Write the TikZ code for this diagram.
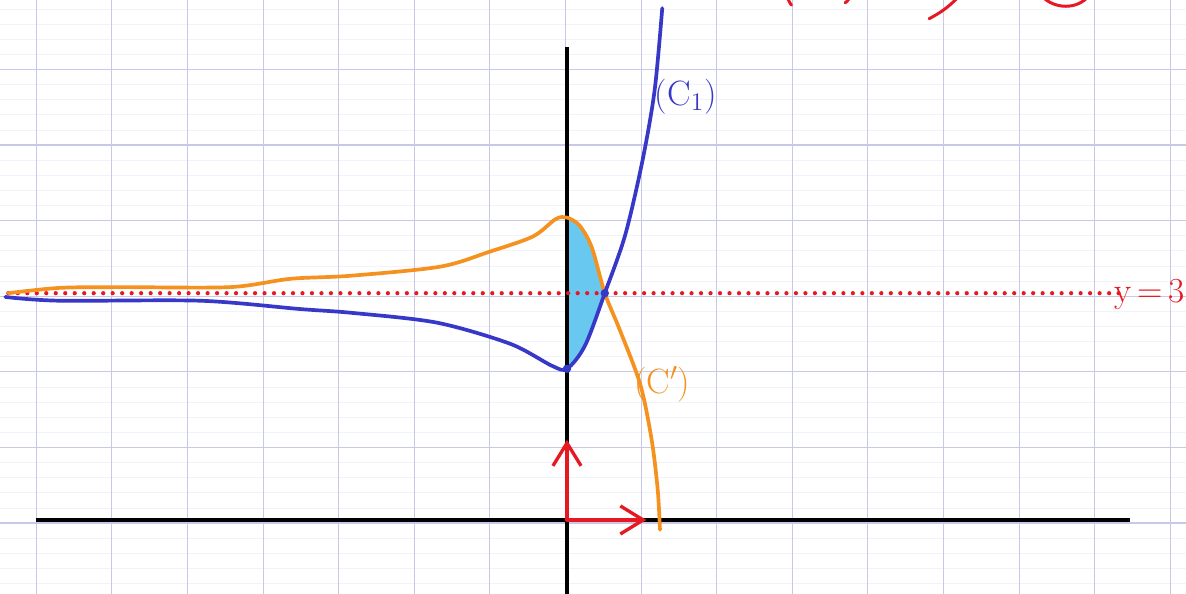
\documentclass[tikz,border=0pt]{standalone}
\usepackage{amsmath}
\usepackage{tikz}
\usetikzlibrary{arrows.meta}
\definecolor{gridmaj}{RGB}{200,200,232}
\definecolor{gridmin}{RGB}{242,242,250}
\definecolor{cblue}{RGB}{55,55,200}
\definecolor{corange}{RGB}{245,145,30}
\definecolor{cfill}{RGB}{105,200,240}
\definecolor{cred}{RGB}{230,25,35}

\begin{document}
\begin{tikzpicture}[x=1.512cm,y=1.512cm,font=\fontsize{20}{24}\selectfont,
  curve/.style={line width=2.1pt,line cap=round,line join=round},
  redarrow/.style={cred,line width=1.9pt,line cap=round,-{Straight Barb[length=13pt,width=16pt,line width=1.9pt]}},
  scrib/.style={cred,line width=1.7pt,line cap=round}]
\useasboundingbox (-7.5,-0.979) rectangle (8.188,6.878);
\fill[white] (-7.5,-0.979) rectangle (8.188,6.878);
% grid
\foreach \k in {-4,...,34} \draw[gridmin,line width=0.4pt] (-7.5,\k/5-0.04) -- (8.188,\k/5-0.04);
\foreach \y in {0,...,6} \draw[gridmaj,line width=0.6pt] (-7.5,\y-0.04) -- (8.188,\y-0.04);
\foreach \x in {-7,...,8} \draw[gridmaj,line width=0.6pt] (\x-0.02,-0.979) -- (\x-0.02,6.878);
% shaded part between the curves
\fill[cfill] plot[smooth] coordinates {(0,4.0) (0.17,3.89) (0.33,3.6) (0.5,3.0)}
  -- plot[smooth] coordinates {(0.5,3.0) (0.24,2.31) (0,2.0)} -- cycle;
% axes
\coordinate (O) at (0,0);
\draw[line width=2.3pt] (-7.02,0) -- (7.45,0);
\draw[line width=2.3pt] (0,-0.98) -- (0,6.26);
% y = 3
\draw[cred,line width=2.4pt,line cap=round,dash pattern=on 0pt off 5.4pt] (-7.39,3) -- (7.31,3);
\node[cred] (labY) at (7.71,2.98) {y\,=\,3};
% curve (C')
\draw[corange,curve] plot[smooth] coordinates {(-7.39,3.0) (-6.71,3.07) (-5.91,3.08) (-4.46,3.08)
  (-3.66,3.19) (-2.87,3.23) (-1.68,3.35) (-1.02,3.55) (-0.45,3.75) (-0.15,3.98)
  (0,4.0) (0.17,3.89) (0.33,3.6) (0.5,3.0) (0.7,2.51) (0.97,1.79) (1.12,1.06) (1.2,0.4) (1.23,-0.13)};
\node[corange] (labCp) at (1.26,1.79) {(C$'$)};
% curve (C1)
\draw[cblue,curve] plot[smooth] coordinates {(-7.43,2.95) (-6.71,2.9) (-4.85,2.9) (-3.53,2.79)
  (-2.85,2.74) (-1.72,2.61) (-0.75,2.33) (-0.2,2.04) (0,2.0)
  (0.24,2.31) (0.5,3.0) (0.77,3.77) (1.0,4.76) (1.16,5.69) (1.26,6.77)};
\node[cblue] (labC) at (1.57,5.6) {(C$_1$)};
\coordinate (M) at (0,2);
\coordinate (I) at (0.5,3);
\fill[cblue] (M) circle (2.4pt) (I) circle (2.4pt);
% unit vectors
\coordinate (ex) at (1.05,0);
\coordinate (ey) at (0,1.06);
\draw[redarrow] (O) -- (ex);
\draw[redarrow] (O) -- (ey);
% cut-off scribbles at the top
\draw[scrib] (2.92,6.95) to[bend right=20] (2.97,6.81);
\draw[scrib] (3.75,6.95) to[bend left=20] (3.68,6.84);
\draw[scrib] (4.79,6.63) to[bend right=8] (5.16,6.9);
\draw[scrib] (6.28,6.93) .. controls (6.45,6.75) and (6.75,6.75) .. (6.9,6.93);
\end{tikzpicture}
\end{document}
